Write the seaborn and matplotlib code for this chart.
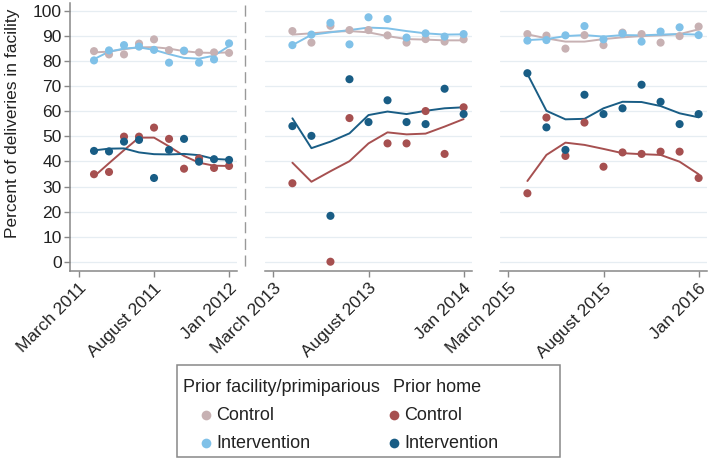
import numpy as np
import pandas as pd
import matplotlib.pyplot as plt
import seaborn as sns
from matplotlib.lines import Line2D
from matplotlib.patches import Rectangle

# months since March of each period start (1 = April ... 10 = January)
months = list(range(1, 11))
periods = ['2011', '2013', '2015']
tick_months = [0, 5, 10]
tick_labels = {
    '2011': ['March 2011', 'August 2011', 'Jan 2012'],
    '2013': ['March 2013', 'August 2013', 'Jan 2014'],
    '2015': ['March 2015', 'August 2015', 'Jan 2016'],
}

# observed monthly percent of deliveries in facility
fac_ctrl_obs = {
    '2011': [84.0, 82.7, 82.7, 87.0, 88.7, 84.4, 84.0, 83.5, 83.5, 83.3],
    '2013': [92.0, 87.4, 94.1, 92.4, 92.4, 90.3, 87.4, 88.8, 87.8, 88.7],
    '2015': [90.8, 90.2, 85.0, 90.4, 86.4, 91.4, 90.8, 87.4, 90.0, 93.8],
}
fac_int_obs = {
    '2011': [80.3, 84.3, 86.4, 85.8, 84.5, 79.4, 84.2, 79.4, 80.7, 87.1],
    '2013': [86.4, 90.6, 95.3, 86.7, 97.5, 96.8, 89.4, 91.1, 89.8, 90.8],
    '2015': [88.2, 88.4, 90.3, 94.0, 88.7, 91.0, 87.8, 91.8, 93.5, 90.4],
}
home_ctrl_obs = {
    '2011': [34.9, 35.8, 49.9, 49.9, 53.5, 49.0, 37.1, 41.2, 37.4, 38.2],
    '2013': [31.3, np.nan, 0.0, 57.3, np.nan, 47.2, 47.2, 60.1, 43.0, 61.6],
    '2015': [27.3, 57.5, 42.2, 55.5, 37.9, 43.6, 43.0, 43.9, 43.9, 33.4],
}
home_int_obs = {
    '2011': [44.2, 44.0, 47.9, 48.6, 33.4, 44.6, 49.0, 39.9, 40.9, 40.6],
    '2013': [54.1, 50.2, 18.3, 72.8, 55.7, 64.4, 55.7, 54.9, 69.0, 58.9],
    '2015': [75.2, 53.6, 44.6, 66.6, 58.9, 61.2, 70.6, 63.8, 54.9, 58.9],
}

# smoothed trend lines
fac_ctrl_fit = {
    '2011': [83.5, 83.8, 84.8, 85.5, 85.6, 85.0, 84.0, 83.4, 83.3, 83.5],
    '2013': [90.6, 91.1, 91.7, 92.0, 91.5, 90.0, 88.8, 88.6, 88.3, 88.3],
    '2015': [90.7, 89.1, 87.8, 87.8, 88.8, 89.5, 90.0, 90.3, 90.8, 92.7],
}
fac_int_fit = {
    '2011': [80.8, 83.8, 85.0, 85.5, 84.5, 82.8, 81.3, 81.0, 82.2, 86.0],
    '2013': [86.4, 90.5, 91.5, 92.4, 93.4, 93.1, 92.0, 91.1, 90.6, 90.7],
    '2015': [88.4, 88.8, 90.0, 90.4, 89.8, 90.4, 90.3, 90.6, 90.8, 90.6],
}
home_ctrl_fit = {
    '2011': [34.0, 39.3, 44.5, 49.5, 49.5, 46.0, 42.2, 39.5, 38.3, 38.2],
    '2013': [39.5, 31.9, 36.1, 40.1, 47.2, 51.6, 50.8, 51.1, 53.9, 56.9],
    '2015': [32.2, 42.6, 47.5, 46.6, 45.0, 43.3, 42.9, 42.6, 39.9, 34.9],
}
home_int_fit = {
    '2011': [44.4, 45.1, 45.2, 43.6, 42.9, 42.8, 43.0, 42.5, 41.0, 40.7],
    '2013': [57.2, 45.3, 47.9, 51.2, 58.5, 59.9, 58.9, 60.2, 61.2, 61.6],
    '2015': [74.9, 60.2, 56.8, 57.0, 61.2, 63.8, 63.7, 62.1, 59.2, 57.6],
}

groups = ['fac_ctrl', 'fac_int', 'home_ctrl', 'home_int']
obs = {'fac_ctrl': fac_ctrl_obs, 'fac_int': fac_int_obs,
       'home_ctrl': home_ctrl_obs, 'home_int': home_int_obs}
fit = {'fac_ctrl': fac_ctrl_fit, 'fac_int': fac_int_fit,
       'home_ctrl': home_ctrl_fit, 'home_int': home_int_fit}
palette = {'fac_ctrl': '#c7b1b3', 'fac_int': '#80c1e8',
           'home_ctrl': '#a65050', 'home_int': '#195d85'}

rows = []
for p in periods:
    for g in groups:
        for m, o, f in zip(months, obs[g][p], fit[g][p]):
            rows.append({'period': p, 'group': g, 'month': m, 'obs': o, 'fit': f})
df = pd.DataFrame(rows)

sns.set_style('white')
plt.rcParams['font.family'] = ['Liberation Sans', 'DejaVu Sans']

fig = plt.figure(figsize=(7.09, 4.59), dpi=100)
W, H = 709, 459
bottom = 1 - 271 / H
height = 268 / H
ax_boxes = [(70, 167), (265, 207), (500, 207)]
xlims = [(-0.6, 10.53), (-0.44, 10.44), (-0.44, 10.44)]

axes = []
for i, p in enumerate(periods):
    left, width = ax_boxes[i]
    ax = fig.add_axes([left / W, bottom, width / W, height])
    sub = df[df['period'] == p]
    sns.lineplot(data=sub, x='month', y='fit', hue='group', hue_order=groups,
                 palette=palette, legend=False, ax=ax, lw=1.4)
    sns.scatterplot(data=sub, x='month', y='obs', hue='group', hue_order=groups,
                    palette=palette, legend=False, ax=ax, s=34,
                    edgecolor='none', zorder=3)
    ax.set_xlim(*xlims[i])
    ax.set_ylim(-3.7, 103.2)
    ax.set_yticks(range(0, 101, 10))
    ax.grid(axis='y', color='#e6edf2', lw=0.9)
    ax.set_axisbelow(True)
    ax.set_xticks(tick_months)
    ax.set_xticklabels(tick_labels[p], rotation=45, ha='right', va='top',
                       rotation_mode='anchor', fontsize=12.5, color='#222222')
    ax.tick_params(axis='x', length=4, width=1, color='#888888', pad=3,
                   bottom=True)
    ax.set_xlabel('')
    for s in ['top', 'right']:
        ax.spines[s].set_visible(False)
    ax.spines['bottom'].set_color('#888888')
    ax.spines['bottom'].set_linewidth(1.1)
    if i == 0:
        ax.spines['left'].set_color('#888888')
        ax.spines['left'].set_linewidth(1.1)
        ax.tick_params(axis='y', length=4, width=1, color='#888888',
                       labelsize=12.5, labelcolor='#222222', left=True, pad=2)
        ax.set_ylabel('Percent of deliveries in facility', fontsize=12.5,
                      color='#222222')
        ax.yaxis.set_label_coords(-0.30, 0.55)
    else:
        ax.spines['left'].set_visible(False)
        ax.tick_params(axis='y', left=False, labelleft=False)
        ax.set_ylabel('')
    axes.append(ax)

# dashed separator between first and later periods
fig.add_artist(Line2D([245 / W, 245 / W], [1 - 5 / H, 1 - 270 / H],
                      color='#999999', lw=1, linestyle=(0, (8, 4))))

# legend box
fig.add_artist(Rectangle((177 / W, 1 - 457 / H), 383 / W, 92 / H,
                         transform=fig.transFigure, fill=False,
                         edgecolor='#888888', lw=1.1))
fig.text(183 / W, 1 - 387 / H, 'Prior facility/primiparious', fontsize=13,
         va='center', ha='left', color='#222222')
fig.text(393 / W, 1 - 387 / H, 'Prior home', fontsize=13,
         va='center', ha='left', color='#222222')
entries = [('fac_ctrl', 'Control', 206, 415), ('fac_int', 'Intervention', 206, 443),
           ('home_ctrl', 'Control', 394, 415), ('home_int', 'Intervention', 394, 443)]
for g, label, x, y in entries:
    fig.add_artist(Line2D([x / W], [1 - y / H], marker='o', markersize=7,
                          color=palette[g], markeredgecolor='none', lw=0))
    fig.text((x + 10) / W, 1 - y / H, label, fontsize=13, va='center',
             ha='left', color='#222222')

fig.savefig('out.png', dpi=100)
